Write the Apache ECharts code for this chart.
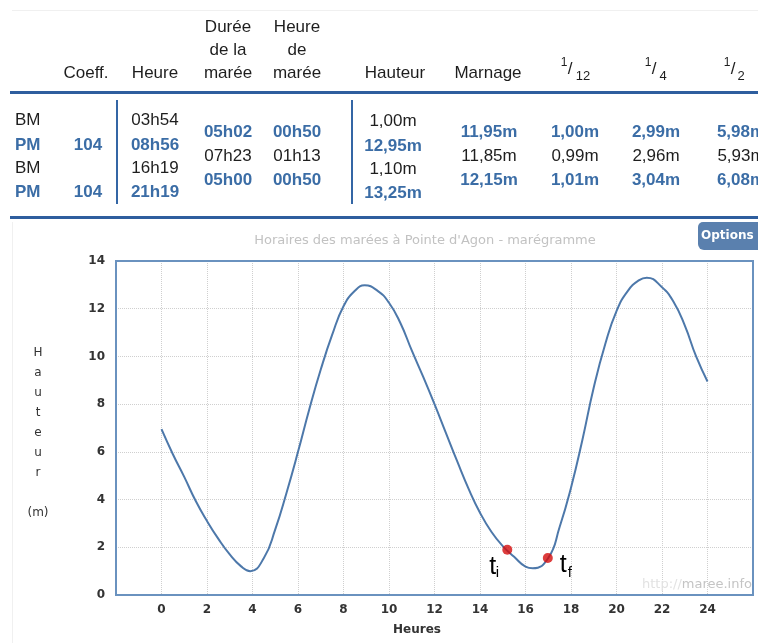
<!DOCTYPE html>
<html><head><meta charset="utf-8">
<script src="https://cdn.jsdelivr.net/npm/echarts@6/dist/echarts.min.js"></script>
<style>html,body{margin:0;padding:0;background:#fff}#c{width:758px;height:643px}</style>
</head><body><div id="c"></div>
<script>
// ---- curve data (hours, height in m) ----
const hours   = [0,0.5,1,1.5,2,2.5,3,3.5,3.9,4.5,5,5.5,6,6.5,7,7.5,8,8.5,8.93,9.5,10,10.5,11,11.5,12,12.5,13,13.5,14,14.5,15,15.5,16,16.32,17,17.5,18,18.5,19,19.5,20,20.5,21,21.33,22,22.5,23,23.5,24];
const heights = [6.95,5.9,4.95,3.95,3.1,2.35,1.7,1.2,1.0,1.55,2.75,4.3,6.0,7.8,9.45,10.9,12.1,12.75,12.98,12.75,12.25,11.4,10.25,9.15,8.0,6.8,5.6,4.45,3.45,2.65,2.05,1.6,1.19,1.12,1.55,2.85,4.5,6.5,8.7,10.5,11.9,12.75,13.2,13.3,12.9,12.3,11.3,10.0,8.95];
const markerHours   = [15.2, 16.98];
const markerHeights = [1.9, 1.55];
const markerSubs    = ['i', 'f'];

// ---- table data ----
const tideTypes   = ['BM','PM','BM','PM'];
const coeffs      = ['','104','','104'];
const tideTimes   = ['03h54','08h56','16h19','21h19'];
const tideHeights = ['1,00m','12,95m','1,10m','13,25m'];
const durations   = ['05h02','07h23','05h00'];
const tideHours   = ['00h50','01h13','00h50'];
const ranges      = ['11,95m','11,85m','12,15m'];
const twelfths    = ['1,00m','0,99m','1,01m'];
const quarters    = ['2,99m','2,96m','3,04m'];
const halves      = ['5,98m','5,93m','6,08m'];

const BLUE = '#3b6da6', DARK = '#1e1e1e', LINE = '#3466a5';
const TF = '"Liberation Sans", Arial, sans-serif';
const CF = '"DejaVu Sans", Verdana, sans-serif';

const chart = echarts.init(document.getElementById('c'), null, {renderer: 'canvas'});

function txt(text, x, y, opt) {
  opt = opt || {};
  return {type: 'text', x: x, y: y, z: 10, style: {
    text: text, fill: opt.fill || DARK,
    font: (opt.bold ? 'bold ' : '') + (opt.size || 17) + 'px ' + (opt.family || TF),
    align: opt.align || 'center', verticalAlign: opt.va || 'middle',
    textAlign: opt.align || 'center', textVerticalAlign: opt.va || 'middle',
    lineHeight: opt.lh, rich: opt.rich
  }};
}
function blueOrBlack(i) { return i % 2 === 1; }

const g = [];
// table lines
g.push({type:'rect', shape:{x:10, y:91, width:748, height:3}, style:{fill:'#2e5e9e'}});
g.push({type:'rect', shape:{x:10, y:216, width:748, height:3}, style:{fill:'#2e5e9e'}});
g.push({type:'rect', shape:{x:116, y:100, width:2, height:104}, style:{fill:LINE}});
g.push({type:'rect', shape:{x:351, y:100, width:2, height:104}, style:{fill:LINE}});
g.push({type:'rect', shape:{x:12, y:10, width:746, height:1}, style:{fill:'#f0f0f0'}});
g.push({type:'rect', shape:{x:12, y:222, width:1, height:421}, style:{fill:'#f0f0f0'}});

// headers
g.push(txt('Coeff.', 86, 73));
g.push(txt('Heure', 155, 73));
g.push(txt('Durée\nde la\nmarée', 228, 50, {lh: 23}));
g.push(txt('Heure\nde\nmarée', 297, 50, {lh: 23}));
g.push(txt('Hauteur', 395, 73));
g.push(txt('Marnage', 488, 73));
// fractions
[[564, '12', 583], [648, '4', 663], [727, '2', 741]].forEach(function (f) {
  g.push(txt('1', f[0], 63, {size: 12}));
  g.push(txt('/', f[0] + 6, 69, {size: 17}));
  g.push(txt(f[1], f[2], 76, {size: 13}));
});

// body rows
const rowY = [120, 145, 168, 192];
const midY = [132, 156, 180];
tideTypes.forEach(function (t, i) {
  const b = blueOrBlack(i);
  const o = {bold: b, fill: b ? BLUE : DARK};
  g.push(txt(t, 15, rowY[i], Object.assign({align: 'left'}, o)));
  if (coeffs[i]) g.push(txt(coeffs[i], 88, rowY[i], o));
  g.push(txt(tideTimes[i], 155, rowY[i], o));
  g.push(txt(tideHeights[i], 393, rowY[i] + 1, o));
});
durations.forEach(function (d, i) {
  const b = i !== 1;
  const o = {bold: b, fill: b ? BLUE : DARK};
  g.push(txt(d, 228, midY[i], o));
  g.push(txt(tideHours[i], 297, midY[i], o));
  g.push(txt(ranges[i], 489, midY[i], o));
  g.push(txt(twelfths[i], 575, midY[i], o));
  g.push(txt(quarters[i], 656, midY[i], o));
  g.push(txt(halves[i], 741, midY[i], o));
});

// chart decorations
g.push(txt("Horaires des marées à Pointe d'Agon - marégramme", 425, 241, {size: 13, family: CF, fill: '#c2c2c2'}));
g.push({type:'rect', shape:{x:698, y:222, width:64, height:28, r:[5,0,0,6]}, style:{fill:'#5a80ae'}, z: 10});
g.push(txt('Options', 701, 236, {size: 12, family: CF, fill: '#fff', bold: true, align: 'left'}));
g.push(txt('H\na\nu\nt\ne\nu\nr\n\n(m)', 38, 343, {size: 12, family: CF, fill: '#333', va: 'top', lh: 20}));
g.push(txt('Heures', 417, 630, {size: 12, family: CF, fill: '#333', bold: true}));
g.push(txt('{a|http://}{b|maree.info}', 752, 585, {size: 13, family: CF, align: 'right',
  rich: {a: {fill: '#e2e2e2', font: '13px ' + CF}, b: {fill: '#c4c4c4', font: '13px ' + CF}}}));
// plot frame
g.push({type:'rect', shape:{x:116, y:261, width:637, height:334}, style:{fill:'none', stroke:'#6a92bf', lineWidth:2}, z: 8});

const option = {
  animation: false,
  backgroundColor: '#fff',
  grid: {left: 116, right: 5, top: 261, bottom: 48},
  xAxis: {
    type: 'value', min: -2, max: 26, interval: 2,
    axisLine: {show: false}, axisTick: {show: false},
    splitLine: {show: true, lineStyle: {type: 'dotted', color: '#cfcfcf'}},
    axisLabel: {margin: 9, color: '#333', fontSize: 12, fontWeight: 'bold', fontFamily: 'DejaVu Sans',
      formatter: function (v) { return (v < 0 || v > 24) ? '' : String(v); }}
  },
  yAxis: {
    type: 'value', min: 0, max: 14, interval: 2,
    axisLine: {show: false}, axisTick: {show: false},
    splitLine: {show: true, lineStyle: {type: 'dotted', color: '#cfcfcf'}},
    axisLabel: {margin: 11, color: '#333', fontSize: 12, fontWeight: 'bold', fontFamily: 'DejaVu Sans'}
  },
  series: [
    {type: 'line', data: hours.map(function (h, i) { return [h, heights[i]]; }),
     smooth: 0.5, showSymbol: false, lineStyle: {color: '#4d78aa', width: 2}, z: 3},
    {type: 'scatter', data: markerHours.map(function (h, i) { return [h, markerHeights[i]]; }),
     symbolSize: 10, itemStyle: {color: '#d40c0c'}, z: 5}
  ],
  graphic: g
};
chart.setOption(option);

// t_i / t_f labels placed relative to the marker points
const labelOffsets = [[[-14.5, 17], [-10, 23]], [[15.5, 7], [22, 14.5]]];
const extra = [];
markerHours.forEach(function (h, k) {
  const p = chart.convertToPixel({gridIndex: 0}, [h, markerHeights[k]]);
  const o = labelOffsets[k];
  extra.push(txt('t', p[0] + o[0][0], p[1] + o[0][1], {size: 25, fill: '#000'}));
  extra.push(txt(markerSubs[k], p[0] + o[1][0], p[1] + o[1][1], {size: 15, fill: '#000'}));
});
chart.setOption({graphic: g.concat(extra)});
</script>
</body></html>
